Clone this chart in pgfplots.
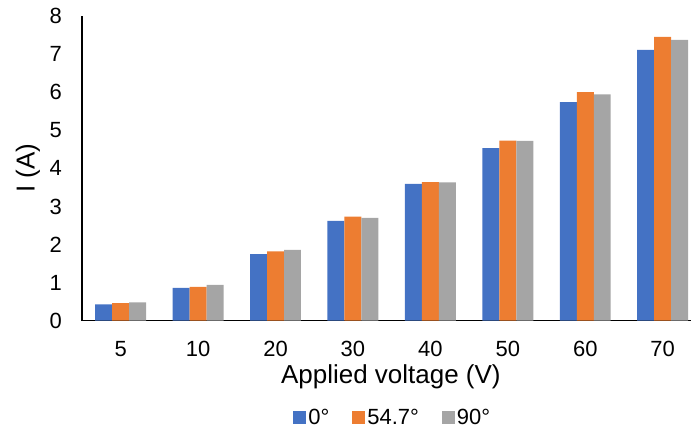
\documentclass[border=0pt]{standalone}
\usepackage{fontspec}
\setmainfont{Liberation Sans}
\usepackage{pgfplots}
\pgfplotsset{compat=1.18}
\definecolor{cA}{HTML}{4472C4}
\definecolor{cB}{HTML}{ED7D31}
\definecolor{cC}{HTML}{A5A5A5}
\begin{document}
\begin{tikzpicture}
\begin{axis}[
  scale only axis,
  width=610pt, height=305pt,
  ybar=0pt, bar width=17pt,
  xmin=-0.5, xmax=7.37,
  ymin=0, ymax=8,
  ytick={0,1,2,3,4,5,6,7,8},
  xtick={0,1,2,3,4,5,6,7},
  xticklabels={5,10,20,30,40,50,60,70},
  axis x line*=bottom, axis y line*=left,
  axis line style={line width=1.3pt},
  major tick length=0pt,
  tick label style={font=\fontsize{22}{26}\selectfont},
  /pgf/number format/assume math mode=true,
  yticklabel style={anchor=east, inner sep=0pt, xshift=-20pt},
  xticklabel style={anchor=center, inner sep=0pt, yshift=-28pt},
  xlabel={Applied voltage (V)},
  ylabel={I (A)},
  label style={font=\fontsize{26}{30}\selectfont},
  xlabel style={at={(axis description cs:0.507,-0.184)}, anchor=center},
  ylabel style={at={(axis description cs:-0.0885,0.5)}, anchor=center, rotate=0},
  legend columns=3,
  legend style={draw=none, at={(axis description cs:0.51,-0.318)}, anchor=center,
    font=\fontsize{22}{26}\selectfont,
    nodes={inner sep=2pt},
    /tikz/every even column/.append style={column sep=21pt}},
  legend image code/.code={\fill[#1] (0pt,-6.5pt) rectangle (13pt,6.5pt);},
  clip=false,
]
\addplot[fill=cA, draw=none] coordinates {(0,0.43) (1,0.86) (2,1.75) (3,2.62) (4,3.59) (5,4.53) (6,5.74) (7,7.11)};
\addplot[fill=cB, draw=none] coordinates {(0,0.46) (1,0.89) (2,1.82) (3,2.73) (4,3.64) (5,4.73) (6,6.00) (7,7.45)};
\addplot[fill=cC, draw=none] coordinates {(0,0.48) (1,0.94) (2,1.86) (3,2.70) (4,3.63) (5,4.72) (6,5.94) (7,7.37)};
\legend{0°,54.7°,90°}
\end{axis}
\useasboundingbox (-82pt,-111pt) rectangle (610pt,321pt);
\end{tikzpicture}
\end{document}
